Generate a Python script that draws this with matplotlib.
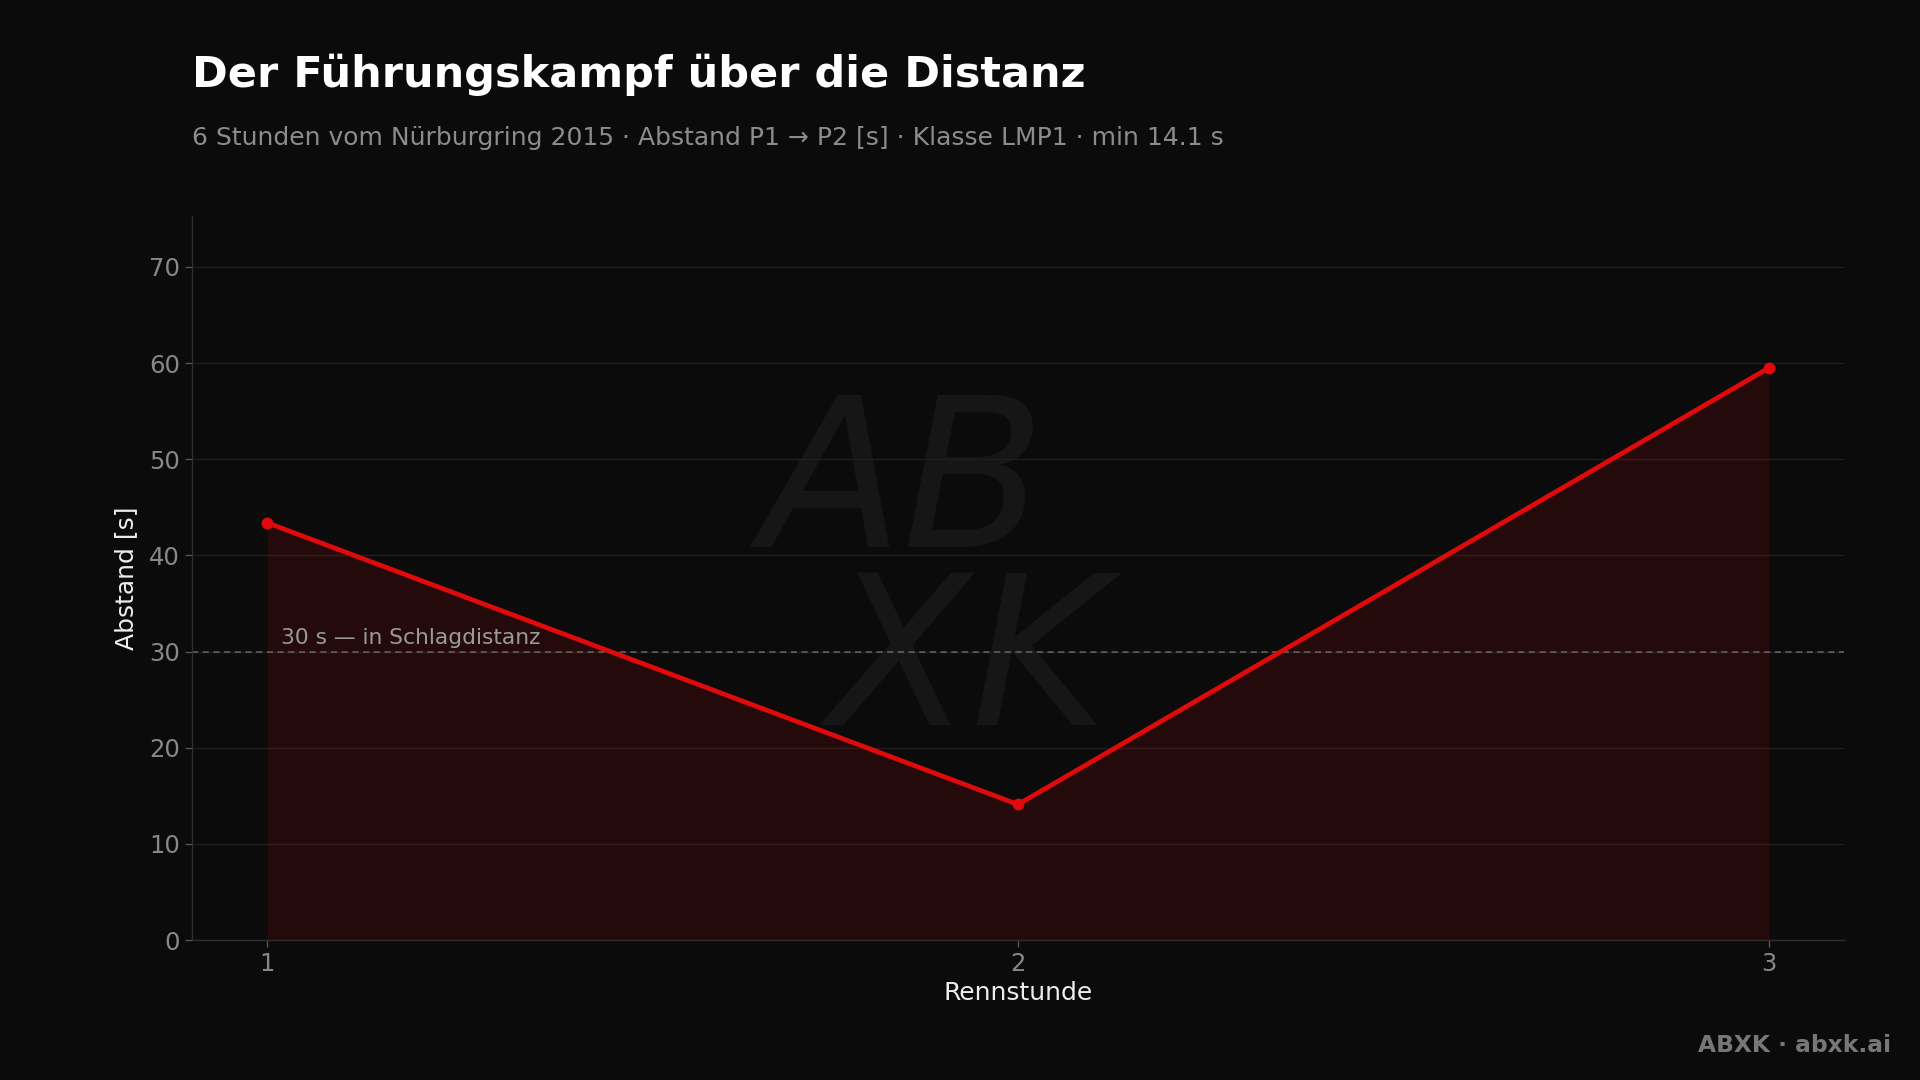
import matplotlib
matplotlib.use("Agg")
import matplotlib.pyplot as plt

hours = [1, 2, 3]
gap_s = [43.4, 14.1, 59.5]
yticks = [0, 10, 20, 30, 40, 50, 60, 70]
threshold = 30
title = "Der Führungskampf über die Distanz"
subtitle = "6 Stunden vom Nürburgring 2015 · Abstand P1 → P2 [s] · Klasse LMP1 · min 14.1 s"
threshold_label = "30 s — in Schlagdistanz"
footer = "ABXK · abxk.ai"

BG = "#0b0b0b"
RED = "#e00a0a"

plt.rcParams['font.family'] = ['DejaVu Sans']
fig = plt.figure(figsize=(19.2, 10.8), dpi=100, facecolor=BG)
ax = fig.add_axes([0.1, 0.1296, 0.8604, 0.6704])
ax.set_facecolor(BG)

# watermark
ax.text(0.43, 0.5, "AB\n  XK", transform=ax.transAxes, fontsize=150, fontstyle='italic',
        fontweight='light', color="#161616", ha='center', va='center', linespacing=0.85, zorder=0.5)

ax.fill_between(hours, gap_s, 0, color=RED, alpha=0.12, linewidth=0, zorder=1)
ax.plot(hours, gap_s, color=RED, linewidth=3.4, marker='o', markersize=7.5, zorder=4,
        solid_capstyle='round')
ax.axhline(threshold, color="#666666", linewidth=1.1, linestyle=(0, (4, 3)), zorder=2)
ax.text(1.018, threshold + 0.4, threshold_label, color="#9a9a9a", fontsize=15.7,
        ha='left', va='bottom', zorder=3)

ax.set_xlim(0.9, 3.1)
ax.set_ylim(0, 75.3)
ax.set_xticks(hours)
ax.set_yticks(yticks)
ax.grid(axis='y', color="#1f1f1f", linewidth=1)
ax.set_axisbelow(True)
for s in ['top', 'right']:
    ax.spines[s].set_visible(False)
for s in ['left', 'bottom']:
    ax.spines[s].set_color("#2e2e2e")
    ax.spines[s].set_linewidth(1)
ax.tick_params(colors="#888888", labelsize=17.5, length=5, width=1)
ax.tick_params(axis='both', color="#555555")
ax.set_xlabel("Rennstunde", color="#eeeeee", fontsize=18, labelpad=4)
ax.set_ylabel("Abstand [s]", color="#eeeeee", fontsize=18, labelpad=8)

fig.text(0.1, 0.931, title, color="white", fontsize=31, fontweight='bold', ha='left', va='center')
fig.text(0.1, 0.872, subtitle, color="#8c8c8c", fontsize=18, ha='left', va='center')
fig.text(0.985, 0.032, footer, color="#777777", fontsize=16.8, fontweight='bold', ha='right', va='center')

fig.savefig("out.png", dpi=100, facecolor=BG)
